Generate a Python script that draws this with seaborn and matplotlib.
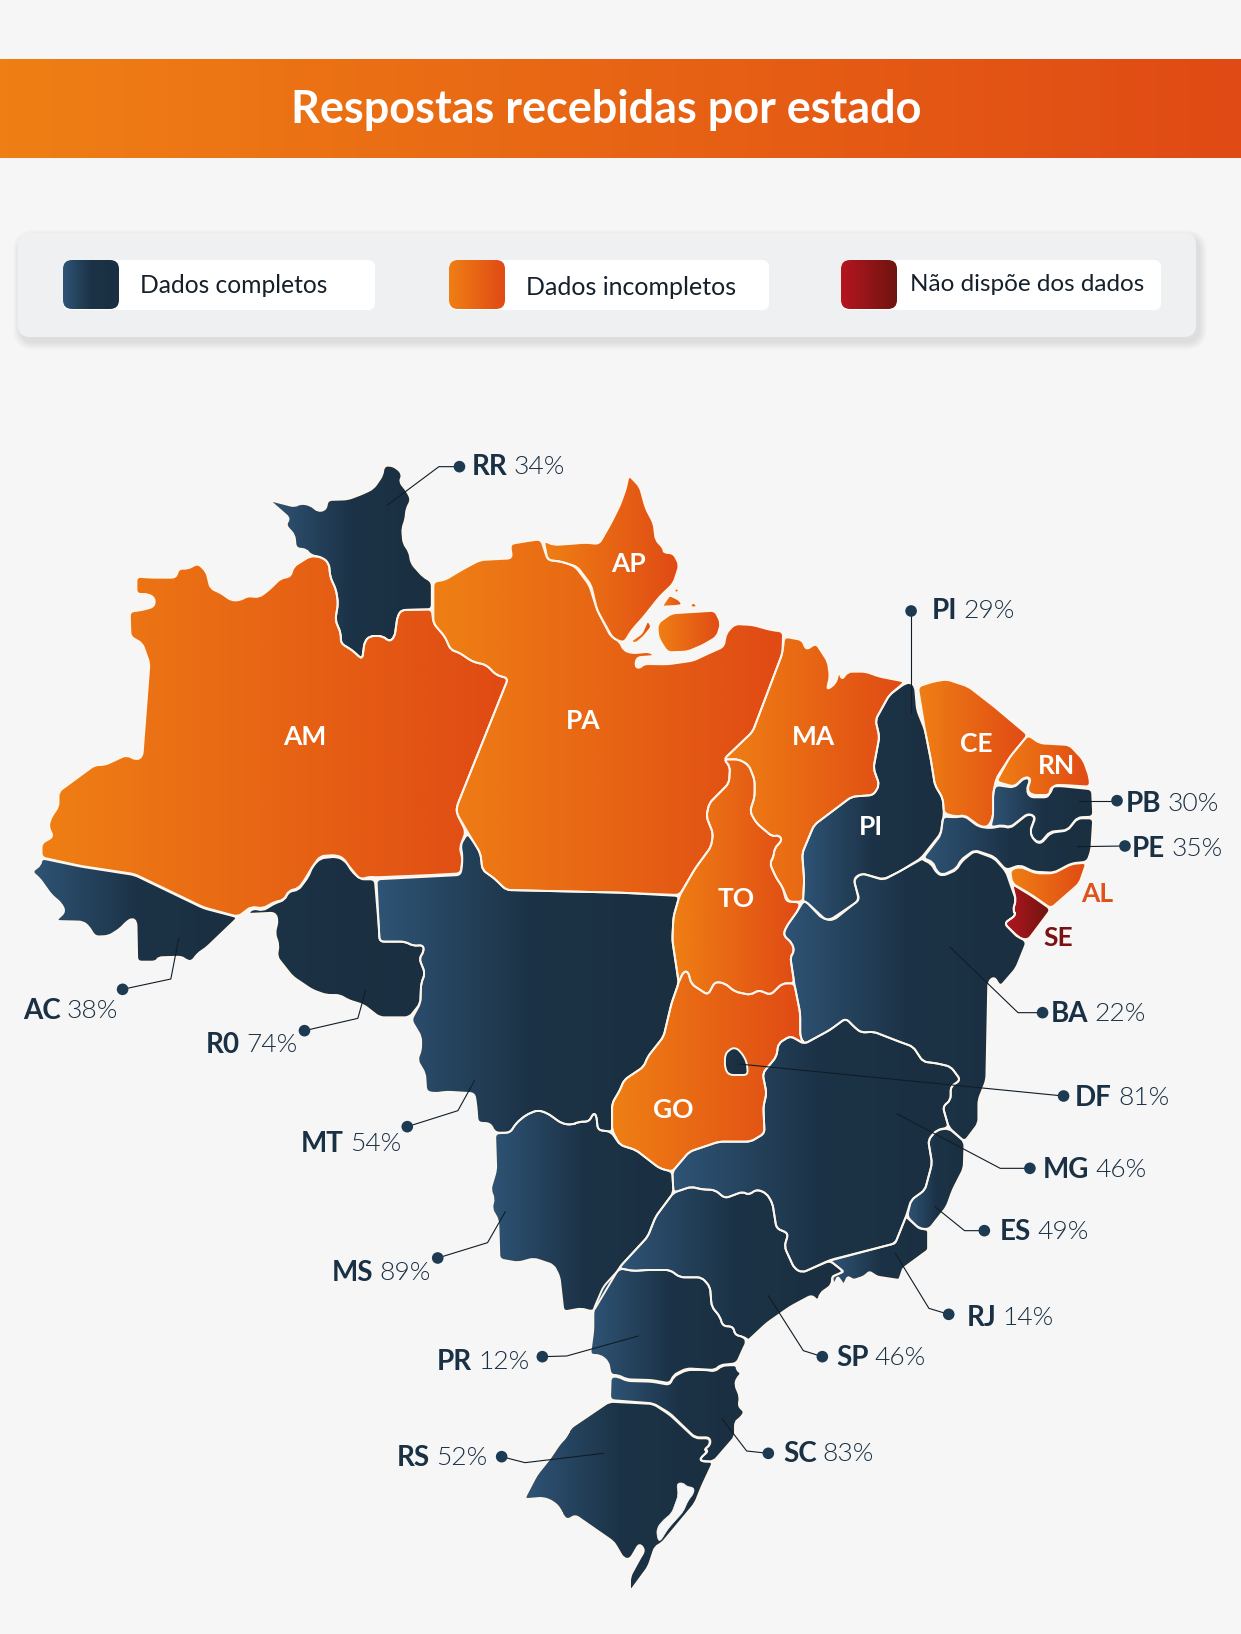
import numpy as np
import pandas as pd
import matplotlib
matplotlib.use("Agg")
import matplotlib.pyplot as plt
from matplotlib import font_manager as fm
from matplotlib.path import Path
from matplotlib.patches import PathPatch, FancyBboxPatch
import seaborn as sns

# outlines were traced on zoomed crops, each crop has its own origin and scale
def crop(x0, y0, kx, ky):
    def convert(points):
        return [(x0 + x / kx, y0 + y / ky) for x, y in points]
    return convert

sheet_a = crop(0, 420, 2.529, 3)
sheet_b = crop(620, 420, 2.525, 3)
sheet_c = crop(0, 840, 2.529, 3)
sheet_d = crop(620, 840, 2.525, 3)
sheet_e = crop(400, 1200, 3, 3)

RR = sheet_a([(970,140),(985,135),(1005,145),(1018,165),(1010,185),(1030,215),(1040,240),(1028,265),(1025,300),(1017,325),(1020,370),(1035,395),(1040,430),(1070,470),(1092,485),(1092,568),(1015,570),(1005,590),(998,650),(985,665),(968,648),(935,648),(922,665),(916,718),(890,690),(862,670),(862,640),(848,600),(855,550),(850,510),(835,470),(832,430),(815,412),(785,405),(775,388),(748,385),(745,345),(722,315),(733,295),(680,240),(720,252),(745,260),(760,250),(785,255),(805,275),(825,268),(828,240),(880,238),(920,220),(945,205),(968,165)])
AM = sheet_a([(345,470),(385,473),(445,473),(452,445),(475,447),(500,430),(522,455),(532,505),(560,520),(585,542),(610,540),(625,528),(655,532),(680,510),(710,475),(735,470),(742,440),(785,408),(815,412),(832,430),(835,470),(850,510),(855,550),(848,600),(862,640),(862,670),(890,690),(916,718),(922,665),(935,648),(968,648),(985,665),(998,650),(1005,590),(1015,570),(1092,568),(1096,610),(1125,650),(1140,690),(1160,697),(1195,725),(1230,735),(1255,765),(1285,775),(1155,1160),(1155,1180),(1178,1235),(1165,1275),(1170,1310),(1165,1360),(1090,1365),(950,1372),(935,1370),(912,1378),(890,1355),(870,1315),(850,1305),(810,1308),(790,1340),(770,1380),(755,1405),(730,1412),(718,1440),(695,1445),(665,1465),(635,1460),(602,1490),(515,1462),(340,1362),(205,1338),(105,1312),(105,1270),(135,1250),(122,1220),(130,1190),(148,1160),(148,1115),(240,1035),(265,1035),(320,1005),(345,1020),(360,1010),(378,730),(360,670),(330,650),(328,575),(360,570),(390,560),(392,535),(375,522),(345,522)])
AC = sheet_c([(105,55),(205,80),(340,105),(515,205),(602,232),(520,325),(500,340),(485,365),(470,360),(460,350),(400,352),(395,365),(347,365),(345,245),(335,235),(320,245),(305,265),(275,288),(240,290),(225,260),(210,245),(140,243),(165,215),(155,190),(130,165),(100,115),(80,95),(103,75)])
RO = sheet_c([(810,55),(850,50),(870,60),(910,118),(948,118),(958,260),(960,305),(1025,305),(1045,318),(1070,315),(1072,335),(1060,355),(1075,400),(1065,430),(1063,490),(1035,532),(960,532),(920,495),(880,480),(860,465),(825,465),(790,450),(740,410),(700,350),(705,315),(695,280),(703,240),(695,218),(625,222),(640,205),(665,212),(695,190),(720,180),(730,155),(755,150),(780,110),(790,80)])
MT = (sheet_c([(1182,-20),(1200,10),(1215,40),(1220,90),(1250,115),(1280,150),(1568,158)])
      + sheet_d([(150,168),(135,230),(132,300),(145,400),(148,430),(130,490),(110,590),(70,650),(60,680),(10,720),(0,750),(-20,790),(-20,870)])
      + sheet_c([(1545,875),(1512,870),(1508,825),(1500,820),(1490,845),(1465,845),(1445,855),(1420,850),(1385,820),(1360,810),(1330,825),(1305,850),(1290,878),(1252,878),(1240,850),(1208,848),(1205,800),(1200,760),(1130,755),(1100,760),(1078,755),(1075,700),(1055,660),(1065,630),(1065,590),(1040,540),(1063,490),(1065,430),(1075,400),(1060,355),(1072,335),(1070,315),(1045,318),(1025,305),(960,305),(958,260),(952,118),(1165,105),(1170,60),(1162,20)]))
TO = (sheet_b([(262,1018),(300,1018),(325,1035),(340,1080),(340,1130),(328,1175),(345,1210),(385,1250),(400,1245),(410,1260),(390,1285),(388,1310),(378,1330),(395,1375),(410,1400),(420,1445),(455,1447)])
      + sheet_d([(450,210),(420,260),(412,285),(435,310),(440,335),(430,350),(440,430),(410,430),(380,465),(350,450),(330,465),(290,455),(265,430),(240,425),(222,465),(180,432),(172,395),(160,395),(148,428),(132,300),(135,230),(150,168),(190,85),(230,20)])
      + sheet_b([(235,1240),(218,1190),(225,1150),(275,1090),(278,1040)]))
MA = sheet_b([(415,650),(460,660),(470,690),(495,670),(525,725),(530,770),(522,810),(545,790),(553,752),(560,780),(575,755),(620,755),(655,770),(720,785),(680,825),(645,900),(655,950),(640,1045),(655,1095),(640,1125),(585,1130),(490,1215),(460,1300),(465,1380),(462,1445),(425,1445),(410,1400),(395,1375),(378,1330),(388,1310),(390,1285),(410,1260),(400,1245),(385,1250),(345,1210),(328,1175),(340,1130),(340,1080),(325,1035),(300,1018),(262,1018),(335,935),(410,700)])
PA = (sheet_a([(1096,485),(1125,480),(1160,455),(1190,435),(1215,420),(1295,415),(1290,372),(1340,362),(1368,358),(1385,420),(1420,425),(1455,440),(1490,495),(1510,570),(1545,650)])
      + sheet_b([(0,665),(8,690),(30,700),(75,695),(88,708),(42,712),(38,740),(50,745),(60,732),(120,733),(185,722),(215,705),(262,680),(268,640),(290,612),(335,615),(380,630),(412,635),(410,700),(335,935),(262,1018),(278,1040),(275,1090),(225,1150),(218,1190),(235,1240),(230,1280),(190,1345),(150,1425)])
      + sheet_c([(1568,158),(1280,150),(1250,115),(1220,90),(1215,40),(1200,10),(1182,-25)])
      + sheet_a([(1155,1180),(1155,1160),(1285,775),(1255,765),(1230,735),(1195,725),(1160,697),(1140,690),(1125,650),(1096,610)]))
MARAJO = sheet_b([(95,610),(130,580),(240,572),(255,610),(245,650),(210,675),(170,695),(120,697),(100,660),(95,640)])
AP = (sheet_a([(1375,362),(1400,375),(1440,372),(1480,368),(1515,372),(1545,310),(1568,255)])
      + sheet_b([(15,205),(22,165),(50,200),(65,265),(85,310),(90,360),(110,385),(110,398),(135,400),(150,435),(135,490),(100,530),(60,590),(30,630),(10,668)])
      + sheet_a([(1550,655),(1510,570),(1495,495),(1460,440),(1420,425),(1385,420)]))
AP_ISLE_1 = sheet_b([(25,665),(55,640),(70,600),(80,620),(60,650),(40,670)])
AP_ISLE_2 = sheet_b([(105,560),(125,525),(150,540),(158,555),(140,558),(110,560)])
AP_ISLE_3 = sheet_b([(175,562),(185,545),(197,562)])
AP_ISLE_4 = sheet_b([(135,512),(143,503),(150,512),(143,520)])
PI = sheet_b([(735,788),(745,800),(750,870),(770,930),(785,1020),(795,1095),(815,1135),(818,1180),(810,1240),(760,1315),(705,1355),(665,1380),(610,1360),(590,1380),(605,1440),(530,1500),(510,1495),(470,1445),(462,1445),(465,1380),(460,1300),(490,1215),(585,1130),(640,1125),(655,1095),(640,1045),(655,950),(645,900),(680,825),(720,790)])
CE = sheet_b([(752,800),(790,785),(825,778),(880,800),(945,860),(1030,945),(985,1010),(950,1075),(942,1120),(942,1190),(930,1220),(910,1220),(870,1185),(850,1190),(818,1180),(815,1135),(795,1095),(785,1020),(770,930)])
RN = sheet_b([(1030,945),(1060,970),(1135,975),(1170,1020),(1185,1070),(1187,1100),(1120,1095),(1095,1095),(1085,1125),(1040,1125),(1028,1110),(1038,1075),(1022,1070),(995,1100),(950,1085),(985,1010)])
PB = sheet_b([(948,1095),(995,1103),(1022,1073),(1036,1078),(1026,1110),(1035,1132),(1082,1132),(1088,1100),(1110,1098),(1192,1108),(1195,1190),(1155,1192),(1130,1230),(1085,1235),(1062,1268),(1045,1260),(1035,1235),(1050,1190),(1030,1180),(985,1222),(965,1215),(935,1222),(942,1190),(942,1120)])
PE = sheet_b([(815,1190),(850,1192),(870,1188),(905,1220),(935,1225),(965,1218),(985,1225),(1030,1182),(1048,1190),(1035,1235),(1045,1262),(1062,1272),(1088,1238),(1130,1232),(1155,1195),(1195,1195),(1190,1290),(1180,1325),(1140,1330),(1095,1358),(1045,1355),(1010,1335),(975,1350),(945,1310),(895,1290),(860,1320),(850,1345),(815,1365),(800,1355),(790,1325),(765,1315),(810,1245)])
BA = (sheet_b([(765,1320),(785,1330),(800,1360),(815,1368),(850,1350),(862,1325),(895,1293),(945,1315),(975,1355)])
      + sheet_d([(985,130),(1000,180),(992,210),(1000,225),(970,250),(1005,290),(1027,305),(1000,385),(960,440),(945,410),(930,425),(925,720),(905,780),(905,850),(870,905),(830,862),(815,800),(835,780),(835,740),(860,720),(835,680),(800,670),(765,665),(740,620),(705,605),(640,575),(610,578),(595,565),(570,535),(530,570),(465,612),(455,590),(455,520),(440,430),(430,350),(440,335),(435,310),(412,285),(420,260),(450,210),(462,185),(470,185),(520,240),(540,240),(603,180),(590,115),(610,100),(665,118),(705,95),(765,55)]))
MG = sheet_d([(465,612),(530,570),(570,535),(595,565),(610,578),(640,575),(705,605),(740,620),(765,665),(800,670),(835,680),(860,720),(835,740),(835,780),(815,800),(830,862),(800,870),(778,900),(788,970),(770,1050),(735,1080),(722,1130),(695,1210),(530,1260),(460,1298),(440,1285),(415,1220),(425,1180),(395,1165),(385,1090),(370,1060),(345,1048),(325,1065),(310,1055),(265,1075),(240,1050),(205,1048),(180,1040),(135,1058),(132,995),(175,935),(250,905),(330,905),(365,880),(362,800),(370,760),(360,700),(395,650),(400,610),(430,588),(450,600)])
GO = sheet_d([(148,428),(160,395),(172,395),(180,432),(222,465),(240,425),(265,430),(290,455),(330,465),(350,450),(380,465),(410,430),(440,430),(455,520),(455,590),(465,612),(430,588),(400,610),(395,650),(360,700),(370,760),(362,800),(365,880),(330,905),(250,905),(175,935),(132,995),(100,985),(40,930),(0,915),(-20,870),(-20,790),(0,750),(10,720),(60,680),(70,650),(110,590),(130,490)])
DF = sheet_d([(265,645),(275,630),(290,622),(305,635),(320,665),(323,705),(275,705),(265,685)])
MS = (sheet_c([(1252,880),(1290,878),(1305,850),(1330,825),(1360,810),(1385,820),(1420,850),(1445,855),(1465,845),(1490,845),(1500,820),(1508,825),(1512,870),(1545,875)])
      + sheet_d([(0,915),(40,930),(100,985),(132,995),(135,1058),(90,1130),(70,1190),(0,1280)])
      + sheet_c([(1500,1415),(1470,1405),(1425,1415),(1415,1310),(1400,1275),(1350,1255),(1310,1268),(1263,1258),(1260,1140),(1243,1105),(1250,1075),(1240,1050),(1255,990)]))
SP = (sheet_d([(135,1058),(180,1040),(205,1048),(240,1050),(265,1075),(310,1055),(325,1065),(345,1048),(370,1060),(385,1090),(395,1165),(425,1180),(415,1220),(440,1285),(460,1298),(530,1262),(565,1295),(535,1310),(535,1335),(505,1360),(500,1385),(485,1365),(430,1400),(370,1450),(325,1500)])
      + sheet_e([(1045,420),(1030,410),(1005,405),(1000,380),(968,378),(960,350),(935,320),(930,260),(905,232),(840,232),(810,210),(740,210),(700,213),(660,205)])
      + sheet_d([(0,1280),(70,1190),(90,1130)]))
RJ = sheet_d([(530,1262),(695,1210),(722,1130),(755,1165),(778,1170),(778,1230),(715,1285),(705,1320),(650,1310),(630,1295),(615,1310),(590,1320),(575,1310),(565,1335),(550,1310),(540,1335),(535,1310),(565,1295)])
ES = sheet_d([(800,870),(830,865),(870,905),(868,985),(840,1050),(825,1100),(780,1168),(755,1165),(725,1130),(735,1080),(770,1050),(788,970),(778,900)])
AL = sheet_d([(985,90),(1010,80),(1050,100),(1095,100),(1140,72),(1178,68),(1160,130),(1088,205),(1040,165),(990,130)])
SE = sheet_d([(990,132),(1040,168),(1088,208),(1030,300),(1005,293),(970,250),(1000,225),(992,210),(1000,180)])
PR = sheet_e([(660,205),(700,213),(740,210),(810,210),(840,232),(905,232),(930,260),(935,320),(960,350),(968,378),(1000,380),(1005,405),(1030,410),(1040,425),(1030,445),(1010,490),(960,495),(945,510),(860,505),(820,525),(810,550),(755,540),(680,538),(655,525),(632,525),(625,485),(600,465),(570,465),(580,390),(580,330),(610,260)])
SC = sheet_e([(632,530),(655,530),(680,543),(755,545),(810,555),(820,530),(860,510),(920,510),(945,515),(965,497),(1010,495),(1010,510),(1025,520),(1010,535),(1005,555),(1020,590),(1015,620),(1035,635),(1020,655),(1005,665),(1005,710),(940,785),(900,782),(905,770),(925,755),(915,745),(932,735),(930,712),(885,712),(810,640),(760,610),(630,600)])
RS = sheet_e([(628,605),(760,612),(810,645),(885,715),(930,715),(928,738),(912,748),(922,755),(900,775),(905,785),(940,785),(905,860),(885,910),(785,1030),(765,1040),(745,1100),(690,1175),(690,1130),(720,1075),(735,1050),(718,1030),(690,1078),(670,1075),(650,1040),(640,1025),(525,945),(505,960),(490,950),(480,925),(460,905),(430,893),(372,898),(410,825),(450,775),(480,730),(500,710),(510,685)])
LAGOON = sheet_e([(830,850),(850,848),(860,860),(882,862),(882,880),(865,900),(850,935),(805,985),(780,1025),(772,1015),(770,985),(790,960),(815,940),(835,885)])

COMPLETE = [RR, AC, MT, PI, PB, PE, BA, MG, MS, SP, ES, PR, SC, RS]
INCOMPLETE = [AM, PA, MARAJO, AP, AP_ISLE_1, AP_ISLE_2, AP_ISLE_3, AP_ISLE_4, MA, TO, CE, RN, GO, AL]
MISSING = [SE]

# callouts
CODES = ["RR", "PI", "PB", "PE", "AC", "R0", "MT", "MS", "BA", "DF", "MG", "ES", "RJ", "SP", "PR", "SC", "RS"]
PCTS = [34, 29, 30, 35, 38, 74, 54, 89, 22, 81, 46, 49, 14, 46, 12, 83, 52]
LABEL_X = [472, 932, 1126, 1132, 23, 206, 301, 332, 1051, 1075, 1043, 1000, 967, 836, 437, 783, 397]
LABEL_Y = [467, 611, 804, 849, 1011, 1045, 1144, 1273, 1014, 1098, 1170, 1232, 1318, 1358, 1362, 1454, 1458]
LEADERS = [
    sheet_a([(1162,140),(1110,140),(980,255)]),
    sheet_b([(735,573),(735,880)]),
    sheet_b([(1255,1142),(1160,1142)]),
    sheet_b([(1275,1278),(1155,1280)]),
    sheet_c([(310,448),(432,417),(452,295)]),
    sheet_c([(770,572),(905,535),(925,450)]),
    sheet_c([(1030,860),(1158,812),(1200,722)]),
    sheet_c([(1107,1254),(1233,1208),(1278,1115)]),
    sheet_d([(1067,518),(1005,518),(832,320)]),
    sheet_d([(1120,768),(300,672)]),
    sheet_d([(1035,985),(960,985),(700,822)]),
    sheet_d([(920,1172),(870,1172),(795,1100)]),
    sheet_d([(830,1423),(780,1405),(695,1240)]),
    sheet_e([(1267,470),(1210,452),(1105,287)]),
    sheet_e([(427,470),(500,468),(715,408)]),
    sheet_e([(1105,760),(1040,753),(965,655)]),
    sheet_e([(305,770),(375,788),(610,760)]),
]

# acronyms printed inside the map
MAP_CODES = ["AM", "PA", "AP", "MA", "PI", "CE", "RN", "TO", "GO", "AL", "SE"]
MAP_X = [305, 583, 629, 814, 871, 976, 1056, 736, 673, 1097, 1058]
MAP_Y = [737, 721, 564, 737, 827, 744, 766, 899, 1110, 894, 938]
MAP_COLORS = ["white"] * 9 + ["#e0521c", "#7a1212"]

LEGEND_LABELS = ["Dados completos", "Dados incompletos", "Não dispõe dos dados"]

BG = "#f6f6f6"
INK = "#1a3044"
EDGE = "#fdf6ec"

sns.set_theme(style="white", rc={"figure.facecolor": BG, "savefig.facecolor": BG})
plt.rcParams["font.family"] = ["Lato", "DejaVu Sans"]

cmap_blue = sns.blend_palette(["#2f5476", "#1c3347", "#1a2f40"], as_cmap=True)
cmap_orange = sns.blend_palette(["#ef7f14", "#e04a14"], as_cmap=True)
cmap_red = sns.blend_palette(["#b5161f", "#6e1410"], as_cmap=True)
cmap_flat = sns.blend_palette(["#1c3346", "#1a2f40"], as_cmap=True)
ramp = np.linspace(0, 1, 256).reshape(1, -1)

# the plain "light" weight resolves to the hairline cut, so look the file up
light_files = [f.fname for f in fm.fontManager.ttflist
               if f.name.startswith("Lato") and f.fname.endswith("Lato-Light.ttf")]
light_font = fm.FontProperties(fname=light_files[0]) if light_files else fm.FontProperties(family="Lato")


def round_path(outline, radius=4.5):
    # corners of the traced outline drawn as short curves, no vertex is added to the data
    pts = np.array(outline, dtype=float)
    n = len(pts)
    verts, codes = [], []
    for i in range(n):
        p, prev, nxt = pts[i], pts[i - 1], pts[(i + 1) % n]
        d0 = np.linalg.norm(prev - p)
        d1 = np.linalg.norm(nxt - p)
        a = p + (prev - p) / max(d0, 1e-6) * min(radius, d0 / 2)
        b = p + (nxt - p) / max(d1, 1e-6) * min(radius, d1 / 2)
        verts.append(a)
        codes.append(Path.MOVETO if i == 0 else Path.LINETO)
        verts += [p, b]
        codes += [Path.CURVE3, Path.CURVE3]
    verts.append(verts[0])
    codes.append(Path.CLOSEPOLY)
    return Path(verts, codes)


def fill_gradient(ax, patch, cmap, extent):
    ax.add_patch(patch)
    img = ax.imshow(ramp, cmap=cmap, extent=extent, aspect="auto", interpolation="bilinear", zorder=patch.get_zorder())
    img.set_clip_path(patch)


def draw_state(ax, outline, cmap, z=3, radius=4.5):
    path = round_path(outline, radius)
    pts = np.array(outline)
    extent = (pts[:, 0].min(), pts[:, 0].max(), pts[:, 1].max(), pts[:, 1].min())
    fill_gradient(ax, PathPatch(path, facecolor="none", edgecolor="none", zorder=z), cmap, extent)
    ax.add_patch(PathPatch(path, facecolor="none", edgecolor=EDGE, linewidth=1.4, zorder=z + 1))


def rounded(x, y, w, h, r, **kw):
    return FancyBboxPatch((x + r, y + r), w - 2 * r, h - 2 * r, boxstyle=f"round,pad={r},rounding_size={r}", **kw)


fig = plt.figure(figsize=(12.41, 16.34), dpi=100)
ax = fig.add_axes([0, 0, 1, 1])

# header band
band = plt.Rectangle((0, 59), 1241, 99, facecolor="none", edgecolor="none", zorder=1)
fill_gradient(ax, band, cmap_orange, (0, 1241, 158, 59))
ax.text(606, 110, "Respostas recebidas por estado", color="white", fontsize=32.4, fontweight="bold",
        ha="center", va="center", zorder=2)

# legend panel, the shadow is a few offset translucent boxes
for i in range(8):
    grow = 8 - i
    ax.add_patch(rounded(18 - grow + 3, 233 + 5 - grow, 1178 + 2 * grow, 104 + 2 * grow, 14 + grow,
                         facecolor="#777777", edgecolor="none", alpha=0.025, zorder=1))
ax.add_patch(rounded(18, 233, 1178, 104, 12, facecolor="#eef0f2", edgecolor="none", zorder=1.2))

pill_x = [63, 449, 841]
pill_w = [312, 320, 320]
text_x = [140, 526, 910]
text_y = [285, 287, 284]
text_size = [17.7, 18, 17.5]
for i, (label, cmap) in enumerate(zip(LEGEND_LABELS, [cmap_blue, cmap_orange, cmap_red])):
    ax.add_patch(rounded(pill_x[i], 260, pill_w[i], 50, 7, facecolor="white", edgecolor="none", zorder=1.5))
    swatch = rounded(pill_x[i], 260, 56, 49, 9, facecolor="none", edgecolor="none", zorder=2)
    fill_gradient(ax, swatch, cmap, (pill_x[i], pill_x[i] + 56, 309, 260))
    ax.text(text_x[i], text_y[i], label, color="#15202b", fontsize=text_size[i], va="center", zorder=3)

# map
for outline in COMPLETE:
    draw_state(ax, outline, cmap_blue)
draw_state(ax, RJ, cmap_blue, radius=2)
draw_state(ax, RO, cmap_flat)
for outline in INCOMPLETE:
    draw_state(ax, outline, cmap_orange, radius=2.5 if len(outline) < 7 else 4.5)
for outline in MISSING:
    draw_state(ax, outline, cmap_red)
# the federal district sits inside Goias, keep it on top
draw_state(ax, DF, cmap_flat, z=5)
ax.add_patch(PathPatch(round_path(LAGOON), facecolor=BG, edgecolor=BG, linewidth=0.5, zorder=7))

# callouts
for leader in LEADERS:
    xs, ys = zip(*leader)
    ax.plot(xs, ys, color="#111d27", linewidth=0.8, zorder=8)
dots = pd.DataFrame({"x": [p[0][0] for p in LEADERS], "y": [p[0][1] for p in LEADERS]})
sns.scatterplot(data=dots, x="x", y="y", ax=ax, s=70, color="#1d3a53", edgecolor="none", zorder=9, legend=False)

ax.set_xlim(0, 1241)
ax.set_ylim(1634, 0)
ax.axis("off")

renderer = fig.canvas.get_renderer()
for code, pct, x, y in zip(CODES, PCTS, LABEL_X, LABEL_Y):
    t = ax.text(x, y, code, color=INK, fontsize=20, fontweight="bold", va="center", zorder=10)
    box = t.get_window_extent(renderer).transformed(ax.transData.inverted())
    ax.text(box.x1 + 6, y, f"{pct}%", color=INK, fontproperties=light_font, fontsize=19, va="center", zorder=10)

for code, x, y, color in zip(MAP_CODES, MAP_X, MAP_Y, MAP_COLORS):
    ax.text(x, y, code, color=color, fontsize=19, fontweight="bold", ha="center", va="center", zorder=10)

fig.savefig("out.png", dpi=100)
